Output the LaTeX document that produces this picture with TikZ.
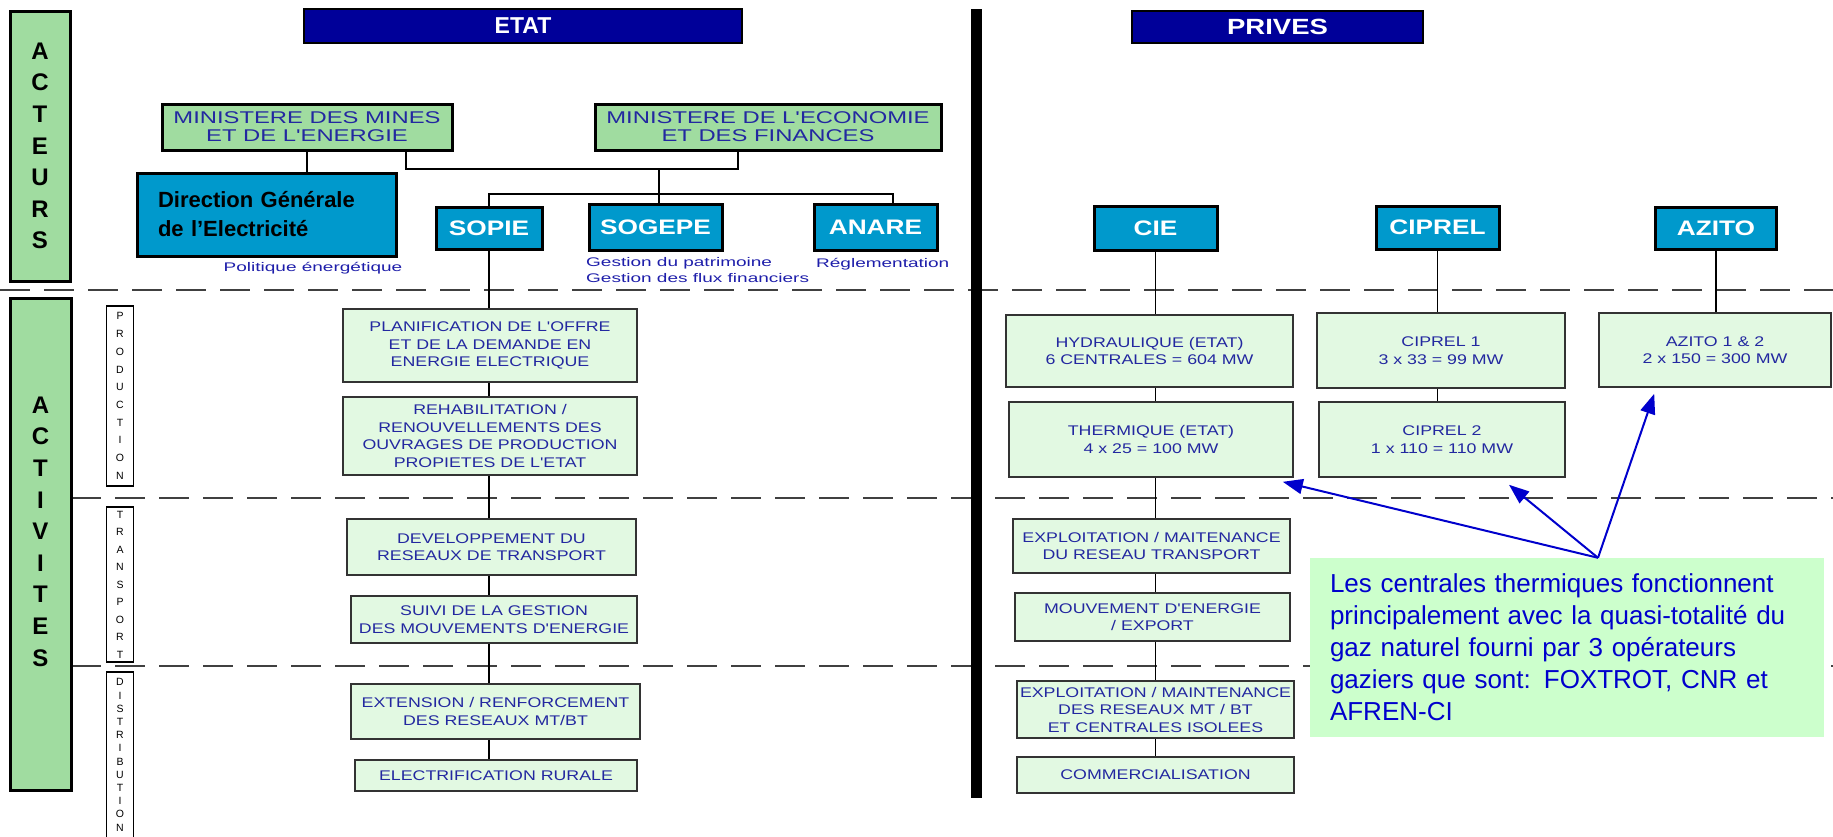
\documentclass[tikz,border=0pt]{standalone}
\usepackage{fontspec}
\setmainfont{Liberation Sans}
\newfontfamily\actfam[FakeStretch=1.27]{Liberation Sans}
\newfontfamily\minfam[FakeStretch=1.4]{Liberation Sans}
\newfontfamily\annfam[FakeStretch=1.52]{Liberation Sans}
\newfontfamily\labelfam[FakeStretch=1.25]{Liberation Sans}
\usetikzlibrary{arrows.meta}

\definecolor{navybar}{RGB}{0,0,153}
\definecolor{midgreen}{RGB}{160,220,160}
\definecolor{orgblue}{RGB}{0,153,204}
\definecolor{paleGreen}{RGB}{226,249,226}
\definecolor{txtblue}{RGB}{35,40,160}
\definecolor{annblue}{RGB}{30,30,170}
\definecolor{notegreen}{RGB}{204,255,204}
\definecolor{noteblue}{RGB}{0,0,204}

\newcommand{\actfont}{\actfam\fontsize{14}{17.5}\selectfont}
\newcommand{\minfont}{\minfam\fontsize{17}{18}\selectfont}
\newcommand{\annfont}{\annfam\fontsize{12.5}{16}\selectfont}
\newcommand{\orgfont}{\labelfam\bfseries\fontsize{21}{25}\selectfont}

\tikzset{
  bar/.style={draw=black, line width=2pt, fill=navybar, text=white, inner sep=0pt},
  greenbox/.style={draw=black, line width=3pt, fill=midgreen, inner sep=0pt, align=center,
    font=\bfseries\fontsize{24}{31.6}\selectfont},
  ministry/.style={draw=black, line width=3pt, fill=midgreen, text=txtblue, align=center,
    inner sep=0pt, font=\minfont},
  orgbox/.style={draw=black, line width=3pt, fill=orgblue, text=white, inner sep=0pt, font=\orgfont},
  actbox/.style={draw=black!80, line width=1.6pt, fill=paleGreen, text=txtblue, align=center,
    inner sep=0pt, font=\actfont},
  sidebox/.style={draw=black, line width=1.5pt, fill=white, inner sep=0pt, align=center},
  annot/.style={text=annblue, font=\annfont, inner sep=0pt},
  link/.style={line width=1.8pt},
  sepline/.style={line width=2.5pt, draw=black!75, dash pattern=on 30pt off 14pt},
  callout/.style={line width=2pt, draw=noteblue, -{Triangle[length=20pt,width=15pt]}},
}

\begin{document}
\begin{tikzpicture}[x=1pt,y=-1pt]
\useasboundingbox (0,0) rectangle (1833,836);

% separators
\draw[sepline] (0,290) -- (1833,290);
\draw[sepline] (71,498) -- (1833,498);
\draw[sepline] (71,666) -- (1833,666);
\draw[line width=11pt] (976.5,9) -- (976.5,798);

% left column
\node[greenbox, minimum width=60pt, minimum height=270pt] (acteurs) at (40,146) {A\\C\\T\\E\\U\\R\\S};
\node[greenbox, minimum width=61pt, minimum height=492pt] (activites) at (40.5,544) {};
\node[align=center, inner sep=0pt, font=\bfseries\fontsize{24}{31.6}\selectfont] (activitesTxt) at (40.5,531.5) {A\\C\\T\\I\\V\\I\\T\\E\\S};

\node[sidebox, minimum width=27pt, minimum height=180pt, font=\fontsize{10.5}{17.7}\selectfont] (production) at (120,396) {P\\R\\O\\D\\U\\C\\T\\I\\O\\N};
\node[sidebox, minimum width=27pt, minimum height=155pt, font=\fontsize{10.5}{17.5}\selectfont] (transport) at (120,584.5) {T\\R\\A\\N\\S\\P\\O\\R\\T};
\node[sidebox, minimum width=27pt, minimum height=170pt] (distribution) at (120,757) {};
\node[anchor=north, align=center, inner sep=0pt, font=\fontsize{10.5}{13.2}\selectfont] (distributionTxt) at (120,678.4) {D\\I\\S\\T\\R\\I\\B\\U\\T\\I\\O\\N};

% headers
\node[bar, minimum width=438pt, minimum height=34pt, font=\bfseries\fontsize{23}{26}\selectfont] (etat) at (523,26) {ETAT};
\node[bar, minimum width=291pt, minimum height=32pt, font=\labelfam\bfseries\fontsize{22}{26}\selectfont] (prives) at (1277.5,27) {PRIVES};

% acteurs ETAT
\node[ministry, minimum width=290pt, minimum height=46pt] (mines) at (307,127) {MINISTERE DES MINES\\ET DE L'ENERGIE};
\node[ministry, minimum width=346pt, minimum height=46pt] (economie) at (768,127) {MINISTERE DE L'ECONOMIE\\ET DES FINANCES};
\node[orgbox, text=black, font=\bfseries\fontsize{22}{29}\selectfont, text width=217pt, align=left,
  minimum width=259pt, minimum height=83pt] (dge) at (266.5,214.5) {Direction Générale\\de l’Electricité};
\node[orgbox, minimum width=106pt, minimum height=42pt] (sopie) at (489,228) {SOPIE};
\node[orgbox, minimum width=133pt, minimum height=46pt] (sogepe) at (655.5,227) {SOGEPE};
\node[orgbox, minimum width=123pt, minimum height=46pt] (anare) at (875.5,227) {ANARE};

\node[annot] (politique) at (313,268) {Politique énergétique};
\node[annot, anchor=west, align=left] (gestion) at (586,270) {Gestion du patrimoine\\Gestion des flux financiers};
\node[annot, anchor=west] (reglement) at (816,264) {Réglementation};

% acteurs PRIVES
\node[orgbox, minimum width=123pt, minimum height=44pt] (cie) at (1155.5,228) {CIE};
\node[orgbox, minimum width=123pt, minimum height=43pt] (ciprel) at (1437.5,227.5) {CIPREL};
\node[orgbox, minimum width=121pt, minimum height=42pt] (azito) at (1716,228) {AZITO};

% activites ETAT
\node[actbox, minimum width=294pt, minimum height=73pt] (planif) at (490,345.5) {PLANIFICATION DE L'OFFRE\\ET DE LA DEMANDE EN\\ENERGIE ELECTRIQUE};
\node[actbox, minimum width=294pt, minimum height=78pt] (rehab) at (490,436) {REHABILITATION /\\RENOUVELLEMENTS DES\\OUVRAGES DE PRODUCTION\\PROPIETES DE L'ETAT};
\node[actbox, minimum width=289pt, minimum height=56pt] (devel) at (491.5,547) {DEVELOPPEMENT DU\\RESEAUX DE TRANSPORT};
\node[actbox, minimum width=286pt, minimum height=47pt] (suivi) at (494,619.5) {SUIVI DE LA GESTION\\DES MOUVEMENTS D'ENERGIE};
\node[actbox, minimum width=289pt, minimum height=55pt] (extension) at (495.5,711.5) {EXTENSION / RENFORCEMENT\\DES RESEAUX MT/BT};
\node[actbox, minimum width=282pt, minimum height=31pt] (electrif) at (496,775.5) {ELECTRIFICATION RURALE};

% activites PRIVES
\node[actbox, minimum width=287pt, minimum height=72pt] (hydro) at (1149.5,351) {HYDRAULIQUE (ETAT)\\6 CENTRALES = 604 MW};
\node[actbox, minimum width=284pt, minimum height=75pt] (thermo) at (1151,439.5) {THERMIQUE (ETAT)\\4 x 25 = 100 MW};
\node[actbox, minimum width=277pt, minimum height=54pt] (explt) at (1151.5,546) {EXPLOITATION / MAITENANCE\\DU RESEAU TRANSPORT};
\node[actbox, minimum width=275pt, minimum height=48pt] (mouv) at (1152.5,617) {MOUVEMENT D'ENERGIE\\/ EXPORT};
\node[actbox, minimum width=277pt, minimum height=57pt] (exmtbt) at (1155.5,709.5) {EXPLOITATION / MAINTENANCE\\DES RESEAUX MT / BT\\ET CENTRALES ISOLEES};
\node[actbox, minimum width=277pt, minimum height=36pt] (commerc) at (1155.5,775) {COMMERCIALISATION};
\node[actbox, minimum width=248pt, minimum height=75pt] (ciprel1) at (1441,350.5) {CIPREL 1\\3 x 33 = 99 MW};
\node[actbox, minimum width=246pt, minimum height=75pt] (ciprel2) at (1442,439.5) {CIPREL 2\\1 x 110 = 110 MW};
\node[actbox, minimum width=232pt, minimum height=74pt] (azito12) at (1715,350) {AZITO 1 \& 2\\2 x 150 = 300 MW};

% links ETAT
\coordinate (top) at (659,169);
\coordinate (fork) at (659,194);
\coordinate (anaredrop) at ([xshift=17.5pt]anare.north);
\draw[link] (mines.south) -- (mines.south |- dge.north);
\draw[link] ([xshift=99pt]mines.south) |- (top) -| ([xshift=-30pt]economie.south);
\draw[link] (top) -- (top |- sogepe.north);
\draw[link] (sopie.north) |- (anaredrop |- fork) -- (anaredrop);
\draw[link] (sopie.south) -- (sopie.south |- planif.north);
\draw[link] (sopie.south |- planif.south) -- (sopie.south |- rehab.north);
\draw[link] (sopie.south |- rehab.south) -- (sopie.south |- devel.north);
\draw[link] (sopie.south |- devel.south) -- (sopie.south |- suivi.north);
\draw[link] (sopie.south |- suivi.south) -- (sopie.south |- extension.north);
\draw[link] (sopie.south |- extension.south) -- (sopie.south |- electrif.north);

% links PRIVES
\draw[link] (cie.south) -- (cie.south |- hydro.north);
\draw[link] (cie.south |- hydro.south) -- (cie.south |- thermo.north);
\draw[link] (cie.south |- thermo.south) -- (cie.south |- explt.north);
\draw[link] (cie.south |- explt.south) -- (cie.south |- mouv.north);
\draw[link] (cie.south |- mouv.south) -- (cie.south |- exmtbt.north);
\draw[link] (cie.south |- exmtbt.south) -- (cie.south |- commerc.north);
\draw[link] (ciprel.south) -- (ciprel.south |- ciprel1.north);
\draw[link] (ciprel.south |- ciprel1.south) -- (ciprel.south |- ciprel2.north);
\draw[link] (azito.south) -- (azito.south |- azito12.north);

% note
\node[fill=notegreen, text=noteblue, minimum width=514pt, minimum height=179pt, text width=474pt,
  inner xsep=20pt, inner ysep=0pt, align=left, font=\fontsize{26}{32}\selectfont] (note) at (1567,647.5)
  {Les centrales thermiques fonctionnent\\principalement avec la quasi-totalité du\\gaz naturel fourni par 3 opérateurs\\gaziers que sont: FOXTROT, CNR et\\AFREN-CI};
\draw[callout] ([xshift=31pt]note.north) -- ([xshift=-11pt,yshift=-4pt]thermo.south east);
\draw[callout] ([xshift=31pt]note.north) -- ([xshift=67pt,yshift=-7pt]ciprel2.south);
\draw[callout] ([xshift=31pt]note.north) -- ([xshift=56pt,yshift=-6pt]azito12.south west);
\end{tikzpicture}
\end{document}
